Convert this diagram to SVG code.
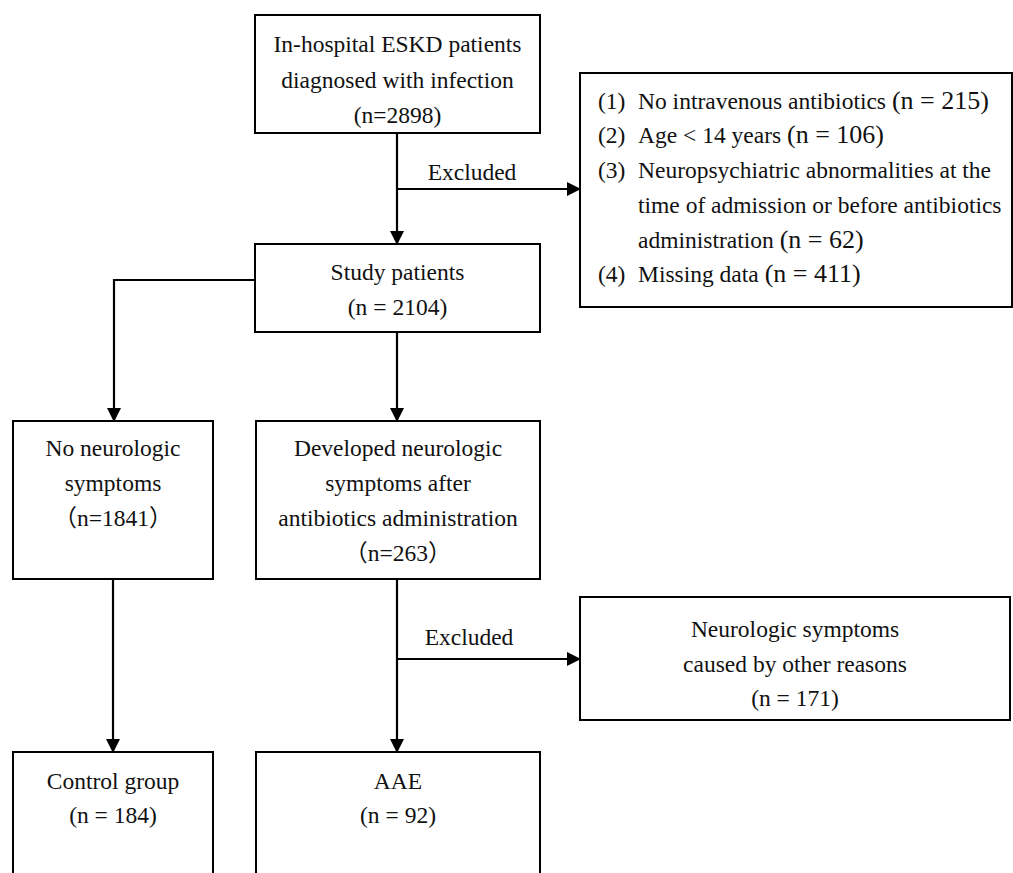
<svg xmlns="http://www.w3.org/2000/svg" width="1013" height="873" viewBox="0 0 1013 873">
<style>
.box{fill:#fff;stroke:#000;stroke-width:2}
.t{font-family:"Liberation Serif","Times New Roman","Noto Sans CJK SC",serif;font-size:23.5px;fill:#111}
.c{text-anchor:middle}
.n{font-size:26px}
.ln{fill:none;stroke:#000;stroke-width:2.2}
</style>
<defs>
<marker id="ah" markerWidth="14" markerHeight="14" refX="13" refY="7" orient="auto" markerUnits="userSpaceOnUse">
<path d="M0,0 L14,7 L0,14 Z" fill="#000"/>
</marker>
</defs>
<rect width="1013" height="873" fill="#fff"/>
<g id="connectors">
<path class="ln" d="M397,133 V244" marker-end="url(#ah)"/>
<path class="ln" d="M397,189 H580" marker-end="url(#ah)"/>
<path class="ln" d="M255,280 H114 V421" marker-end="url(#ah)"/>
<path class="ln" d="M397,332 V421" marker-end="url(#ah)"/>
<path class="ln" d="M113,579 V752" marker-end="url(#ah)"/>
<path class="ln" d="M397,579 V752" marker-end="url(#ah)"/>
<path class="ln" d="M397,659 H580" marker-end="url(#ah)"/>
<text class="t c" x="472" y="180">Excluded</text>
<text class="t c" x="469" y="645">Excluded</text>
</g>
<g id="n-start">
<rect class="box" x="255" y="15" width="285" height="118"/>
<text class="t c" x="397.5" y="52">In-hospital ESKD patients</text>
<text class="t c" x="397.5" y="88">diagnosed with infection</text>
<text class="t c" x="397.5" y="123">(n=2898)</text>
</g>
<g id="n-excl1">
<rect class="box" x="580" y="73" width="432" height="234"/>
<text class="t" x="598" y="109">(1)</text><text class="t" x="638" y="109">No intravenous antibiotics <tspan class="n">(n = 215)</tspan></text>
<text class="t" x="598" y="143">(2)</text><text class="t" x="638" y="143">Age &lt; 14 years <tspan class="n">(n = 106)</tspan></text>
<text class="t" x="598" y="178">(3)</text><text class="t" x="638" y="178">Neuropsychiatric abnormalities at the</text>
<text class="t" x="638" y="213">time of admission or before antibiotics</text>
<text class="t" x="638" y="248">administration <tspan class="n">(n = 62)</tspan></text>
<text class="t" x="598" y="282">(4)</text><text class="t" x="638" y="282">Missing data <tspan class="n">(n = 411)</tspan></text>
</g>
<g id="n-study">
<rect class="box" x="255" y="244" width="285" height="88"/>
<text class="t c" x="397.5" y="280">Study patients</text>
<text class="t c" x="397.5" y="315">(n = 2104)</text>
</g>
<g id="n-noneuro">
<rect class="box" x="13" y="421" width="200" height="158"/>
<text class="t c" x="113" y="456">No neurologic</text>
<text class="t c" x="113" y="491">symptoms</text>
<text class="t c" x="113" y="526">（n=1841）</text>
</g>
<g id="n-neuro">
<rect class="box" x="256" y="421" width="284" height="158"/>
<text class="t c" x="398" y="456">Developed neurologic</text>
<text class="t c" x="398" y="491">symptoms after</text>
<text class="t c" x="398" y="526">antibiotics administration</text>
<text class="t c" x="398" y="561">（n=263）</text>
</g>
<g id="n-excl2">
<rect class="box" x="580" y="597" width="430" height="123"/>
<text class="t c" x="795" y="637">Neurologic symptoms</text>
<text class="t c" x="795" y="672">caused by other reasons</text>
<text class="t c" x="795" y="706">(n = 171)</text>
</g>
<g id="n-control">
<rect class="box" x="13" y="752" width="200" height="140"/>
<text class="t c" x="113" y="789">Control group</text>
<text class="t c" x="113" y="823">(n = 184)</text>
</g>
<g id="n-aae">
<rect class="box" x="256" y="752" width="284" height="140"/>
<text class="t c" x="398" y="789">AAE</text>
<text class="t c" x="398" y="823">(n = 92)</text>
</g>
</svg>
